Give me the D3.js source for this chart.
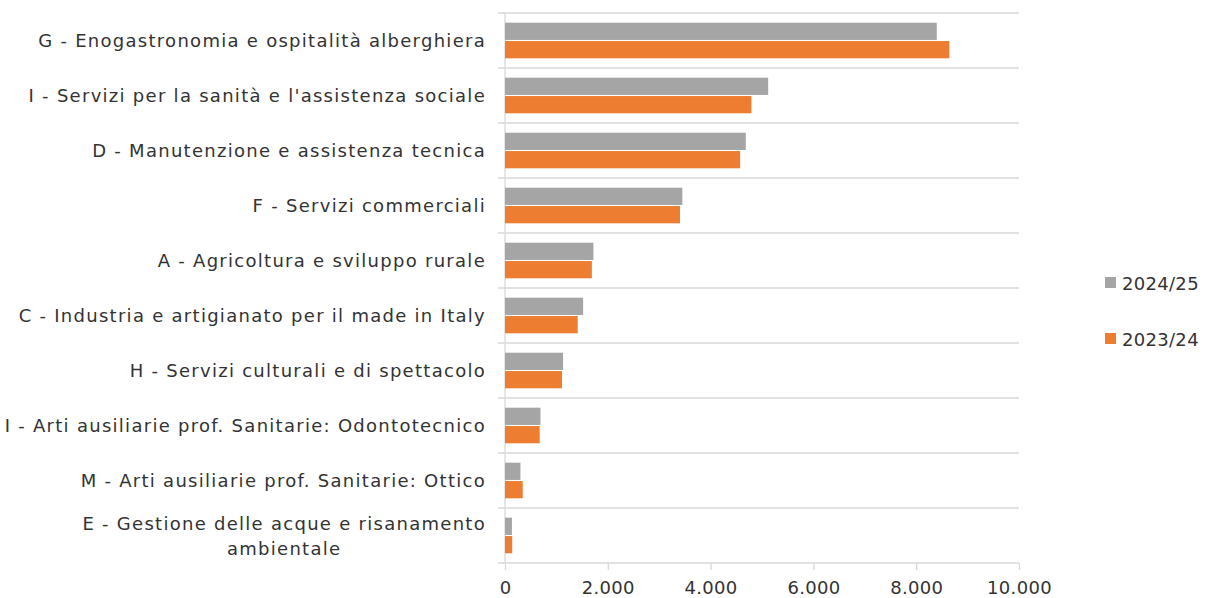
<!DOCTYPE html>
<html>
<head>
<meta charset="utf-8">
<script src="https://cdn.jsdelivr.net/npm/d3@7"></script>
<style>
  html, body { margin: 0; padding: 0; background: #fff; }
  svg { display: block; }
  text { font-family: "DejaVu Sans", sans-serif; fill: #333333; }
</style>
</head>
<body>
<svg id="chart" width="1205" height="598"></svg>
<script>
// ---- data ----
const categories = [
  "G - Enogastronomia e ospitalità alberghiera",
  "I - Servizi per la sanità e l'assistenza sociale",
  "D - Manutenzione e assistenza tecnica",
  "F - Servizi commerciali",
  "A - Agricoltura e sviluppo rurale",
  "C - Industria e artigianato per il made in Italy",
  "H - Servizi culturali e di spettacolo",
  "I - Arti ausiliarie prof. Sanitarie: Odontotecnico",
  "M - Arti ausiliarie prof. Sanitarie: Ottico",
  "E - Gestione delle acque e risanamento ambientale"
];
const seriesNames = ["2024/25", "2023/24"];
const values2024_25 = [8400, 5120, 4685, 3450, 1720, 1520, 1130, 690, 300, 135];
const values2023_24 = [8645, 4795, 4575, 3405, 1690, 1415, 1110, 675, 345, 140];
const xTicks = [0, 2000, 4000, 6000, 8000, 10000];
const colors = ["#a5a5a5", "#ed7d31"];

// ---- layout ----
const svg = d3.select("#chart");
const plot = { left: 505, right: 1019, top: 13, bottom: 563 };
const fontSize = 18;
const labelSpacing = 1.28;

const itLocale = d3.formatLocale({ decimal: ",", thousands: ".", grouping: [3], currency: ["€", ""] });
const fmt = itLocale.format(",.0f");

const x = d3.scaleLinear().domain([0, 10000]).range([plot.left, plot.right]);
const y = d3.scaleBand().domain(categories).range([plot.top, plot.bottom]).paddingInner(0.353).paddingOuter(0.1765);
const ySub = d3.scaleBand().domain(seriesNames).range([0, y.bandwidth()]).paddingInner(0.06);

const seriesValues = { "2024/25": values2024_25, "2023/24": values2023_24 };

// horizontal category gridlines (band boundaries) with left tick stubs
const bounds = categories.map(c => y(c) - y.step() * y.paddingInner() / 2).concat([plot.bottom]);
svg.append("g").selectAll("line").data(bounds).join("line")
  .attr("x1", plot.left - 7).attr("x2", plot.right)
  .attr("y1", d => d).attr("y2", d => d)
  .attr("stroke", "#d9d9d9").attr("stroke-width", 1.3);

// vertical axis line
svg.append("line")
  .attr("x1", plot.left).attr("x2", plot.left)
  .attr("y1", plot.top).attr("y2", plot.bottom)
  .attr("stroke", "#d9d9d9").attr("stroke-width", 1.3);

// bottom axis
const xAxis = d3.axisBottom(x).tickValues(xTicks).tickFormat(fmt).tickSize(7).tickPadding(11);
const gx = svg.append("g").attr("transform", `translate(0,${plot.bottom})`).call(xAxis);
gx.select(".domain").remove();
gx.selectAll(".tick line").attr("stroke", "#d9d9d9").attr("stroke-width", 1.3);
gx.selectAll(".tick text").attr("font-size", fontSize).attr("font-family", "DejaVu Sans")
  .attr("fill", "#333333").attr("letter-spacing", 0.3);

// bars
const groups = svg.append("g").selectAll("g").data(categories).join("g")
  .attr("transform", c => `translate(0,${y(c)})`);
seriesNames.forEach((s, si) => {
  groups.append("rect")
    .attr("x", x(0))
    .attr("y", ySub(s))
    .attr("width", (c, i) => x(seriesValues[s][i]) - x(0))
    .attr("height", ySub.bandwidth())
    .attr("fill", colors[si]);
});

// category labels
const labelX = plot.left - 19;
const lbl = svg.append("g").selectAll("text").data(categories).join("text")
  .attr("font-size", fontSize)
  .attr("letter-spacing", labelSpacing)
  .attr("dominant-baseline", "central");
lbl.each(function(c) {
  const t = d3.select(this);
  const cy = y(c) + y.bandwidth() / 2;
  if (c.startsWith("E - Gestione")) {
    const l1 = "E - Gestione delle acque e risanamento";
    const l2 = "ambientale";
    t.attr("x", labelX).attr("y", cy - 12.5).attr("text-anchor", "end").text(l1);
    const w = this.getComputedTextLength();
    svg.append("text").attr("font-size", fontSize).attr("letter-spacing", labelSpacing)
      .attr("dominant-baseline", "central")
      .attr("x", labelX - w / 2).attr("y", cy + 12.5).attr("text-anchor", "middle").text(l2);
  } else {
    t.attr("x", labelX).attr("y", cy).attr("text-anchor", "end").text(c);
  }
});

// legend
const legend = svg.append("g").selectAll("g").data(seriesNames).join("g")
  .attr("transform", (d, i) => `translate(1105,${283 + i * 56})`);
legend.append("rect").attr("x", 0).attr("y", -6).attr("width", 11).attr("height", 11)
  .attr("fill", (d, i) => colors[i]);
legend.append("text").attr("x", 17).attr("y", 0).attr("dominant-baseline", "central")
  .attr("font-size", fontSize).attr("letter-spacing", 0.3).text(d => d);
</script>
</body>
</html>
